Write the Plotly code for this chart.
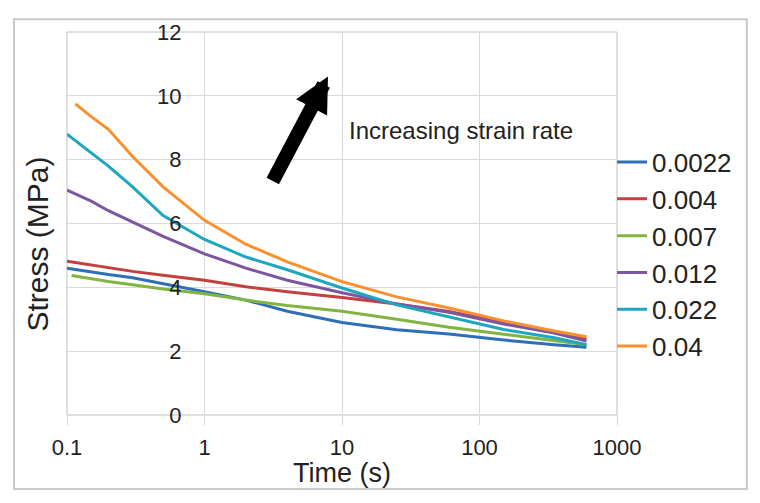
import plotly.graph_objects as go

# strain-rate series
strain_rates = ["0.0022", "0.004", "0.007", "0.012", "0.022", "0.04"]

time_s = [0.1, 0.15, 0.2, 0.3, 0.5, 1, 2, 4, 10, 25, 60, 150, 350, 600]
time_green = [0.108, 0.15, 0.2, 0.3, 0.5, 1, 2, 4, 10, 25, 60, 150, 350, 600]
time_orange = [0.115, 0.15, 0.2, 0.3, 0.5, 1, 2, 4, 10, 25, 60, 150, 350, 600]

stress_0022 = [4.60, 4.48, 4.40, 4.30, 4.12, 3.86, 3.60, 3.25, 2.90, 2.67, 2.54, 2.35, 2.20, 2.12]
stress_004 = [4.82, 4.70, 4.62, 4.50, 4.38, 4.22, 4.02, 3.86, 3.68, 3.48, 3.24, 2.90, 2.60, 2.38]
stress_007 = [4.37, 4.27, 4.18, 4.08, 3.95, 3.80, 3.60, 3.43, 3.25, 3.00, 2.75, 2.53, 2.33, 2.20]
stress_012 = [7.05, 6.70, 6.40, 6.05, 5.60, 5.05, 4.60, 4.22, 3.83, 3.48, 3.22, 2.85, 2.57, 2.32]
stress_022 = [8.80, 8.20, 7.80, 7.15, 6.25, 5.50, 4.95, 4.55, 3.98, 3.45, 3.07, 2.68, 2.42, 2.20]
stress_04 = [9.75, 9.35, 8.95, 8.10, 7.15, 6.10, 5.35, 4.80, 4.18, 3.70, 3.35, 2.95, 2.63, 2.45]

x_ticks = [0.1, 1, 10, 100, 1000]
x_tick_labels = ["0.1", "1", "10", "100", "1000"]

series = [
    (time_s, stress_0022, "#2F6FB6"),
    (time_s, stress_004, "#C3403E"),
    (time_green, stress_007, "#82B443"),
    (time_s, stress_012, "#7C56A0"),
    (time_s, stress_022, "#1DA6C0"),
    (time_orange, stress_04, "#F7902F"),
]

FONT = "Liberation Sans, Arial, sans-serif"
TEXT = "#222222"
GRID = "#d9d9d9"

fig = go.Figure()

for name, (t, s, color) in zip(strain_rates, series):
    fig.add_trace(
        go.Scatter(
            x=t,
            y=s,
            mode="lines",
            name=name,
            line=dict(width=3, color=color),
        )
    )

# page body has an 8px margin, so the figure is a bit smaller than the window
fig.update_layout(
    width=752,
    height=495,
    margin=dict(l=59, r=143, t=19, b=88),
    paper_bgcolor="white",
    plot_bgcolor="white",
    font=dict(family=FONT, color=TEXT),
    showlegend=True,
    legend=dict(
        x=0.991,
        xanchor="left",
        y=0.42,
        yanchor="middle",
        font=dict(size=26, color=TEXT),
        bgcolor="rgba(0,0,0,0)",
    ),
)

fig.update_xaxes(
    type="log",
    range=[-1, 3],
    tickvals=x_ticks,
    ticktext=x_tick_labels,
    tickfont=dict(size=22, color=TEXT),
    ticks="outside",
    ticklen=9,
    tickcolor=GRID,
    ticklabelstandoff=4,
    showgrid=True,
    gridcolor=GRID,
    gridwidth=1,
    zeroline=False,
    showline=False,
)

fig.update_yaxes(
    range=[0, 12],
    dtick=2,
    anchor="free",
    position=0.249,
    tickfont=dict(size=22, color=TEXT),
    ticks="outside",
    ticklen=18,
    tickcolor="rgba(0,0,0,0)",
    showgrid=True,
    gridcolor=GRID,
    gridwidth=1,
    zeroline=False,
    showline=False,
)

# plot-area frame and outer chart border
fig.add_shape(type="rect", xref="paper", yref="paper", x0=0, x1=1, y0=0, y1=1,
              line=dict(color="#bfbfbf", width=1), layer="below")
fig.add_shape(type="rect", xref="paper", yref="paper", x0=-0.0964, x1=1.236,
              y0=-0.193, y1=1.0335, line=dict(color="#c8c8c8", width=2))

# axis titles
fig.add_annotation(text="Time (s)", xref="paper", yref="paper", x=0.5, y=-0.152,
                   showarrow=False, font=dict(size=27, color=TEXT),
                   xanchor="center", yanchor="middle")
fig.add_annotation(text="Stress (MPa)", xref="paper", yref="paper", x=-0.054, y=0.446,
                   textangle=-90, showarrow=False, font=dict(size=30, color=TEXT),
                   xanchor="center", yanchor="middle")

# arrow + label
fig.add_annotation(text="", xref="paper", yref="paper", x=0.4745, y=0.884,
                   ax=-56, ay=106, showarrow=True, arrowhead=2, arrowsize=0.5,
                   arrowwidth=14, arrowcolor="black")
fig.add_annotation(text="Increasing strain rate", xref="paper", yref="paper",
                   x=0.716, y=0.742, showarrow=False,
                   font=dict(size=24, color=TEXT), xanchor="center", yanchor="middle")

fig.write_html("out.html")
